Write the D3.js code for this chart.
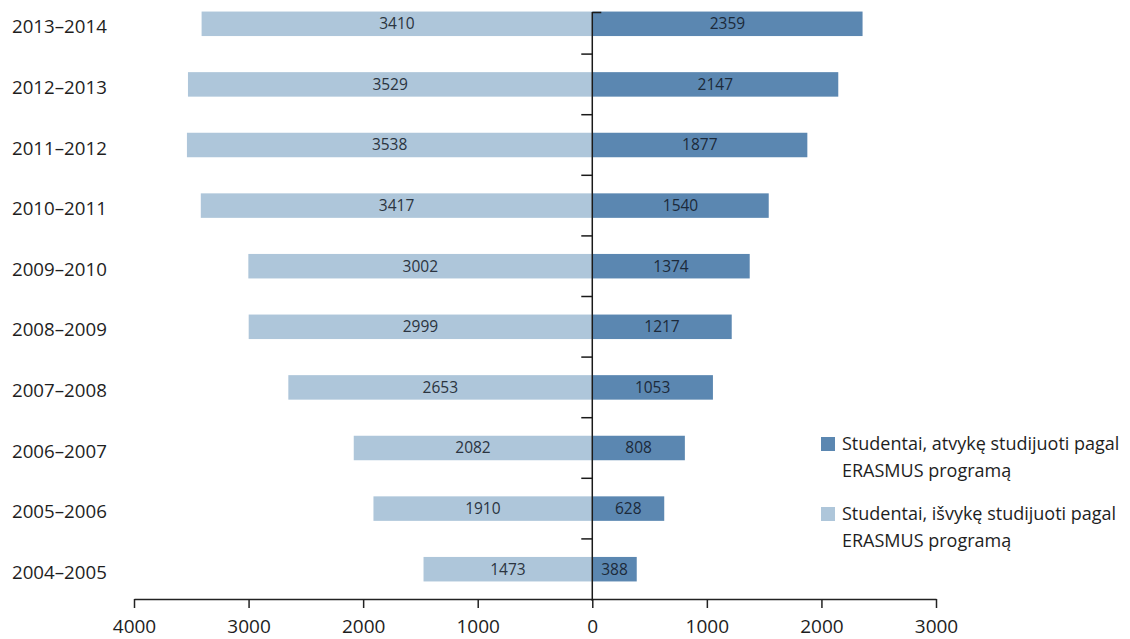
<!DOCTYPE html>
<html>
<head>
<meta charset="utf-8">
<script src="https://cdn.jsdelivr.net/npm/d3@7"></script>
<style>
  html, body { margin: 0; padding: 0; background: #fff; }
  svg { display: block; font-family: "Open Sans", sans-serif; }
</style>
</head>
<body>
<svg id="chart" width="1130" height="639"></svg>
<script>
// Data (top to bottom)
const categories = ["2013–2014","2012–2013","2011–2012","2010–2011","2009–2010","2008–2009","2007–2008","2006–2007","2005–2006","2004–2005"];
const outgoing = [3410, 3529, 3538, 3417, 3002, 2999, 2653, 2082, 1910, 1473]; // išvykę (left)
const incoming = [2359, 2147, 1877, 1540, 1374, 1217, 1053, 808, 628, 388];   // atvykę (right)
const xTicks = [-4000, -3000, -2000, -1000, 0, 1000, 2000, 3000];
const legendLabels = [
  ["Studentai, atvykę studijuoti pagal", "ERASMUS programą"],
  ["Studentai, išvykę studijuoti pagal", "ERASMUS programą"]
];

const colDark = "#5b87b1";
const colLight = "#aec6da";
const textCol = "#1e1e1e";

const svg = d3.select("#chart");
const x = d3.scaleLinear().domain([-4000, 3000]).range([134, 936]);
const y = d3.scaleBand().domain(categories).range([-6.5, 599.5]).padding(0);
const barH = 24.5;
const axisY = 599;
const zeroX = x(0);

const rows = categories.map((c, i) => ({cat: c, out: outgoing[i], inc: incoming[i]}));

// Light bars (left)
svg.append("g").selectAll("rect").data(rows).join("rect")
  .attr("x", d => x(-d.out))
  .attr("y", d => y(d.cat) + y.bandwidth()/2 - barH/2)
  .attr("width", d => zeroX - x(-d.out))
  .attr("height", barH)
  .attr("fill", colLight);

// Dark bars (right)
svg.append("g").selectAll("rect").data(rows).join("rect")
  .attr("x", zeroX)
  .attr("y", d => y(d.cat) + y.bandwidth()/2 - barH/2)
  .attr("width", d => x(d.inc) - zeroX)
  .attr("height", barH)
  .attr("fill", colDark);

// Value labels
svg.append("g").selectAll("text").data(rows).join("text")
  .attr("x", d => (x(-d.out) + zeroX) / 2)
  .attr("y", d => y(d.cat) + y.bandwidth()/2)
  .attr("dy", "0.35em")
  .attr("text-anchor", "middle")
  .attr("font-size", 15.5)
  .attr("fill", "#2b3440")
  .text(d => d.out);

svg.append("g").selectAll("text").data(rows).join("text")
  .attr("x", d => (x(d.inc) + zeroX) / 2)
  .attr("y", d => y(d.cat) + y.bandwidth()/2)
  .attr("dy", "0.35em")
  .attr("text-anchor", "middle")
  .attr("font-size", 15.5)
  .attr("fill", "#1c2a3a")
  .text(d => d.inc);

// Category labels
svg.append("g").selectAll("text").data(rows).join("text")
  .attr("x", 12)
  .attr("y", d => y(d.cat) + y.bandwidth()/2 + 3)
  .attr("dy", "0.35em")
  .attr("font-size", 18.7)
  .attr("fill", textCol)
  .text(d => d.cat);

// X axis
const xAxis = d3.axisBottom(x)
  .tickValues(xTicks)
  .tickFormat(d => Math.abs(d))
  .tickSize(9)
  .tickPadding(12)
  .tickSizeOuter(0);
const gx = svg.append("g").attr("transform", `translate(0,${axisY})`).call(xAxis);
gx.select(".domain").attr("stroke", "#222").attr("stroke-width", 1.5);
gx.selectAll(".tick line").attr("stroke", "#222").attr("stroke-width", 1.5);
gx.selectAll(".tick text").attr("font-size", 19).attr("fill", textCol)
  .attr("font-family", "Open Sans, sans-serif");

// Vertical axis at zero
const gy = svg.append("g");
gy.append("line")
  .attr("x1", zeroX).attr("x2", zeroX)
  .attr("y1", 12).attr("y2", axisY + 2)
  .attr("stroke", "#1a1a1a").attr("stroke-width", 1.5);
const boundaries = categories.slice(1).map(c => y(c));
gy.selectAll("line.tk").data(boundaries).join("line")
  .attr("class", "tk")
  .attr("x1", zeroX - 11).attr("x2", zeroX)
  .attr("y1", d => d).attr("y2", d => d)
  .attr("stroke", "#1a1a1a").attr("stroke-width", 1.5);
gy.append("line")
  .attr("x1", zeroX).attr("x2", zeroX + 9)
  .attr("y1", 12.5).attr("y2", 12.5)
  .attr("stroke", "#1a1a1a").attr("stroke-width", 1.5);

// Legend
const legendColors = [colDark, colLight];
const legendTop = [437, 507];
const lg = svg.append("g");
legendLabels.forEach((lines, i) => {
  lg.append("rect")
    .attr("x", 821).attr("y", legendTop[i])
    .attr("width", 14).attr("height", 14)
    .attr("fill", legendColors[i]);
  lines.forEach((t, j) => {
    lg.append("text")
      .attr("x", 842)
      .attr("y", legendTop[i] + 7 + j * 26.5)
      .attr("dy", "0.35em")
      .attr("font-size", 18)
      .attr("fill", textCol)
      .text(t);
  });
});
</script>
</body>
</html>
